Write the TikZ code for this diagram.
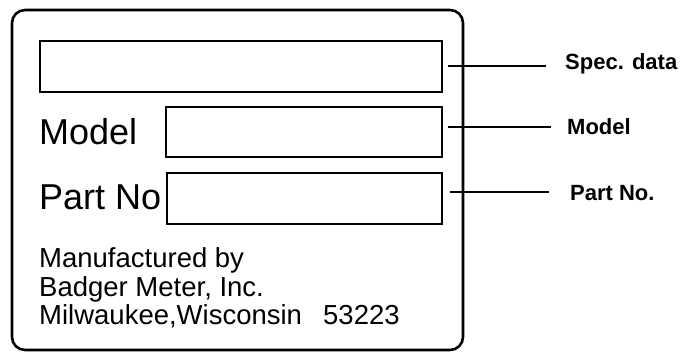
\documentclass[tikz,border=0pt]{standalone}
\usepackage{fontspec}
\setmainfont{Liberation Sans}
\begin{document}
\begin{tikzpicture}[x=1pt,y=-1pt,
  plate/.style={draw, line width=2.6pt, rounded corners=13pt},
  field/.style={draw, line width=2.2pt, rectangle, inner sep=0pt, anchor=north west},
  bigtext/.style={anchor=base west, inner sep=0pt, font=\fontsize{36}{36}\selectfont},
  smalltext/.style={anchor=base west, inner sep=0pt, font=\fontsize{27.5}{28}\selectfont},
  calltext/.style={anchor=base west, inner sep=0pt, font=\bfseries\fontsize{22}{22}\selectfont},
  leader/.style={line width=2pt}]
\useasboundingbox (0,0) rectangle (681,352);
% plate outline
\draw[plate] (12,10) rectangle (463,350);
% fields
\node[field, minimum width=402pt, minimum height=51pt] (spec) at (39,40) {};
\node[field, minimum width=276pt, minimum height=50pt] (modelbox) at (165,106) {};
\node[field, minimum width=275pt, minimum height=51pt] (partbox) at (166,172) {};
% field labels
\node[bigtext] (modeltxt) at (39,145) {Model};
\node[bigtext] (parttxt) at (39,210) {Part No};
% maker
\node[smalltext] (mfg1) at (39,268) {Manufactured by};
\node[smalltext] (mfg2) at (39,297) {Badger Meter, Inc.};
\node[smalltext] (mfg3) at (39,325) {Milwaukee,Wisconsin};
\node[smalltext] (zip) at (323,325) {53223};
% callouts
\node[calltext] (speclab) at (565,70) {Spec. data};
\node[calltext] (modellab) at (567,135) {Model};
\node[calltext] (partlab) at (570,201) {Part No.};
\coordinate (a1) at (448,66);  \coordinate (b1) at (546,66);
\coordinate (a2) at (448,127); \coordinate (b2) at (551,127);
\coordinate (a3) at (450,192); \coordinate (b3) at (549,192);
\draw[leader] (a1) -- (b1);
\draw[leader] (a2) -- (b2);
\draw[leader] (a3) -- (b3);
\end{tikzpicture}
\end{document}
